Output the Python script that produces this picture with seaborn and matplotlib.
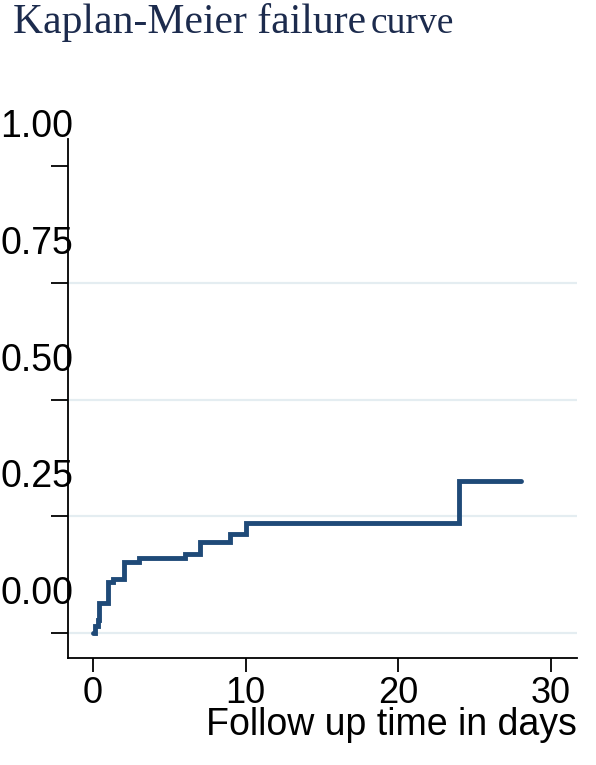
import matplotlib
matplotlib.use("Agg")
import matplotlib.pyplot as plt
import matplotlib.transforms as mtransforms
import seaborn as sns

# Kaplan-Meier failure estimate
times = [0, 0.15, 0.3, 0.4, 1.0, 1.3, 2, 3, 6, 7, 9, 10, 24, 28]
failure = [0, 0.014, 0.028, 0.064, 0.109, 0.116, 0.152, 0.160, 0.169,
           0.195, 0.212, 0.236, 0.325, 0.325]

x_ticks = [0, 10, 20, 30]
y_ticks = [0, 0.25, 0.5, 0.75, 1.0]
y_labels = ["0.00", "0.25", "0.50", "0.75", "1.00"]

sns.set_style("ticks")
plt.rcParams["font.family"] = ["Liberation Sans", "DejaVu Sans"]
plt.rcParams["text.color"] = "black"
plt.rcParams["xtick.color"] = "black"
plt.rcParams["ytick.color"] = "black"
plt.rcParams["axes.labelcolor"] = "black"

fig = plt.figure(figsize=(5.96, 7.65), dpi=100)
ax = fig.add_axes([0.1141, 0.1399, 0.8541, 0.6784])

sns.lineplot(x=times, y=failure, ax=ax, drawstyle="steps-post",
             color="#1f4a78", linewidth=3.5, solid_capstyle="round",
             solid_joinstyle="miter")

ax.set_xlim(-1.64, 31.7)
ax.set_ylim(-0.0535, 1.058)
ax.set_xticks(x_ticks)
ax.set_yticks(y_ticks)
ax.set_yticklabels(y_labels)

ax.tick_params(axis="both", direction="out", length=12, width=1.3)
ax.tick_params(axis="x", length=10, labelsize=26, pad=3)
ax.tick_params(axis="y", labelsize=27, pad=0)

# y labels sit above their ticks and overlap the axis line
off = mtransforms.ScaledTranslation(22 / 100, 43 / 100, fig.dpi_scale_trans)
for lab in ax.get_yticklabels():
    lab.set_transform(lab.get_transform() + off)

ax.yaxis.grid(True, color="#e4edf1", linewidth=1.6)
ax.get_ygridlines()[-1].set_visible(False)

sns.despine(ax=ax)
for side in ["left", "bottom"]:
    ax.spines[side].set_linewidth(1.3)
    ax.spines[side].set_color("black")

ax.set_xlabel("Follow up time in days", fontsize=27, loc="right", labelpad=-3)
ax.set_ylabel("")

fig.text(0.022, 0.957, "Kaplan-Meier failure", family="Liberation Serif",
         fontsize=30, color="#1c2b4d", va="baseline")
fig.text(0.622, 0.957, "curve", family="Liberation Serif",
         fontsize=27, color="#1c2b4d", va="baseline")

fig.savefig("out.png", dpi=100)
